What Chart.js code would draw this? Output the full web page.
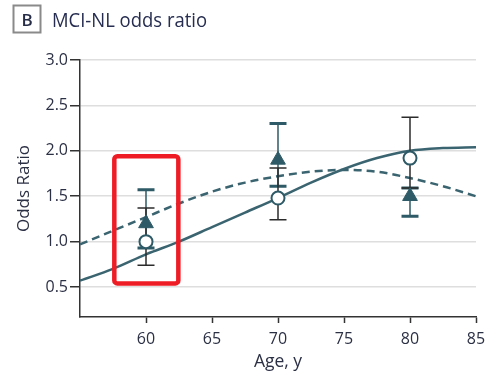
<!DOCTYPE html>
<html>
<head>
<meta charset="utf-8">
<title>MCI-NL odds ratio</title>
<script src="https://cdn.jsdelivr.net/npm/chart.js@4/dist/chart.umd.min.js"></script>
<style>
  html, body { margin: 0; padding: 0; background: #ffffff; }
  canvas { display: block; }
</style>
</head>
<body>
<canvas id="chart" width="487" height="384"></canvas>
<script>
// Fitted model curves, evaluated on an age grid (years)
const ageGrid     = [55, 57.5, 60, 62.5, 65, 67.5, 70, 72.5, 75, 77.5, 80, 82.5, 85];
const curveSolid  = [0.57, 0.70, 0.86, 1.00, 1.16, 1.32, 1.48, 1.65, 1.80, 1.92, 2.00, 2.03, 2.04];
const curveDashed = [0.97, 1.12, 1.27, 1.42, 1.55, 1.65, 1.72, 1.77, 1.79, 1.77, 1.70, 1.61, 1.50];

// Age-group estimates with 95% confidence intervals
const pointAges   = [60, 70, 80];
const orCircle    = [1.00, 1.48, 1.92];
const circleLow   = [0.74, 1.24, 1.59];
const circleHigh  = [1.37, 1.81, 2.37];
const orTriangle  = [1.20, 1.90, 1.50];
const triangleLow = [0.93, 1.61, 1.28];
const triangleHigh= [1.57, 2.30, 1.59];

// Axis ticks
const ageTicks = [60, 65, 70, 75, 80, 85];
const orTicks  = [0.5, 1.0, 1.5, 2.0, 2.5, 3.0];

// Highlighted region (age range, odds-ratio range)
const highlightAge = [57.6, 62.45];
const highlightOR  = [0.54, 1.94];

const TEAL = '#2d5a66';
const LINE = '#3a6470';
const INK  = '#2c3045';
const FONT = '"Open Sans", "DejaVu Sans", sans-serif';

const errorBars = {
  id: 'errorBars',
  beforeDatasetDraw(chart, args) {
    if (args.index !== 1) return;
    const {ctx, scales: {x, y}} = chart;
    const draw = (lo, hi, color, capWidth, stemWidth) => {
      pointAges.forEach((age, i) => {
        const px = x.getPixelForValue(age);
        const yl = y.getPixelForValue(lo[i]);
        const yh = y.getPixelForValue(hi[i]);
        ctx.save();
        ctx.strokeStyle = color;
        ctx.lineWidth = stemWidth;
        ctx.beginPath();
        ctx.moveTo(px, yl);
        ctx.lineTo(px, yh);
        ctx.stroke();
        ctx.lineWidth = capWidth;
        ctx.beginPath();
        ctx.moveTo(px - 8.5, yl); ctx.lineTo(px + 8.5, yl);
        ctx.moveTo(px - 8.5, yh); ctx.lineTo(px + 8.5, yh);
        ctx.stroke();
        ctx.restore();
      });
    };
    draw(triangleLow, triangleHigh, TEAL, 3, 1.5);
    draw(circleLow, circleHigh, '#2b2b2b', 1.5, 1.5);
  }
};

const highlightBox = {
  id: 'highlightBox',
  afterDatasetsDraw(chart) {
    const {ctx, scales: {x, y}} = chart;
    const x0 = x.getPixelForValue(highlightAge[0]);
    const x1 = x.getPixelForValue(highlightAge[1]);
    const y0 = y.getPixelForValue(highlightOR[1]);
    const y1 = y.getPixelForValue(highlightOR[0]);
    ctx.save();
    ctx.strokeStyle = '#ee1c25';
    ctx.lineWidth = 4.5;
    ctx.beginPath();
    ctx.roundRect(x0, y0, x1 - x0, y1 - y0, 3);
    ctx.stroke();
    ctx.restore();
  }
};

const panelTitle = {
  id: 'panelTitle',
  afterDraw(chart) {
    const ctx = chart.ctx;
    ctx.save();
    ctx.strokeStyle = '#8a8a8a';
    ctx.lineWidth = 2;
    ctx.strokeRect(13.5, 5.5, 27, 27);
    ctx.fillStyle = '#262c45';
    ctx.font = '600 17px ' + FONT;
    ctx.textAlign = 'center';
    ctx.textBaseline = 'alphabetic';
    ctx.fillText('B', 27, 25.5);
    const text = 'MCI-NL odds ratio';
    ctx.font = '20px ' + FONT;
    ctx.textAlign = 'left';
    const w = ctx.measureText(text).width;
    ctx.translate(52, 27);
    ctx.scale(155 / w, 1);
    ctx.fillStyle = '#262d50';
    ctx.fillText(text, 0, 0);
    ctx.restore();
  }
};

const toPoints = (xs, ys) => xs.map((v, i) => ({x: v, y: ys[i]}));

new Chart(document.getElementById('chart'), {
  type: 'scatter',
  data: {
    datasets: [
      {
        label: 'Age group estimate',
        data: toPoints(pointAges, orCircle),
        pointStyle: 'circle',
        pointRadius: 6.5,
        pointHoverRadius: 6.5,
        pointBackgroundColor: '#ffffff',
        pointBorderColor: TEAL,
        pointBorderWidth: 2,
        showLine: false,
        order: 0
      },
      {
        label: 'Age group estimate (alt.)',
        data: toPoints(pointAges, orTriangle),
        pointStyle: 'triangle',
        pointRadius: 8.5,
        pointHoverRadius: 8.5,
        pointBackgroundColor: TEAL,
        pointBorderColor: TEAL,
        pointBorderWidth: 1,
        showLine: false,
        order: 1
      },
      {
        label: 'Model',
        data: toPoints(ageGrid, curveSolid),
        showLine: true,
        borderColor: LINE,
        borderWidth: 2.5,
        pointRadius: 0,
        cubicInterpolationMode: 'monotone',
        order: 2
      },
      {
        label: 'Model (alt.)',
        data: toPoints(ageGrid, curveDashed),
        showLine: true,
        borderColor: LINE,
        borderWidth: 2.5,
        borderDash: [8, 5],
        pointRadius: 0,
        cubicInterpolationMode: 'monotone',
        order: 3
      }
    ]
  },
  options: {
    responsive: false,
    animation: false,
    devicePixelRatio: 1,
    layout: { padding: { top: 60, right: 11, left: 0, bottom: 0 } },
    plugins: {
      legend: { display: false },
      tooltip: { enabled: false },
      title: { display: false }
    },
    scales: {
      x: {
        type: 'linear',
        position: 'bottom',
        min: 55,
        max: 85,
        afterBuildTicks: s => { s.ticks = ageTicks.map(v => ({value: v})); },
        afterFit: s => { s.height = 67; s.paddingLeft = 0; s.paddingRight = 0; },
        grid: {
          drawOnChartArea: false,
          tickLength: 6,
          tickColor: '#333333',
          tickWidth: 1.5
        },
        border: { color: '#333333', width: 1.5 },
        ticks: {
          color: INK,
          font: { family: FONT, size: 16 },
          padding: 7,
          maxRotation: 0,
          callback: v => String(v)
        },
        title: {
          display: true,
          text: 'Age, y',
          color: INK,
          font: { family: FONT, size: 17.5 },
          padding: { top: 0, bottom: 11 }
        }
      },
      y: {
        type: 'linear',
        min: 0.17,
        max: 3.0,
        afterBuildTicks: s => { s.ticks = orTicks.map(v => ({value: v})); },
        afterFit: s => { s.width = 80; s.paddingTop = 0; s.paddingBottom = 0; },
        grid: {
          color: '#dedede',
          lineWidth: 1.5,
          tickLength: 10,
          tickColor: '#333333',
          tickWidth: 1.5
        },
        border: { color: '#333333', width: 1.5 },
        ticks: {
          color: INK,
          font: { family: FONT, size: 16 },
          padding: 2,
          callback: v => v.toFixed(1)
        },
        title: {
          display: true,
          text: 'Odds Ratio',
          color: INK,
          font: { family: FONT, size: 17 },
          padding: { top: 14, bottom: 0 }
        }
      }
    }
  },
  plugins: [errorBars, highlightBox, panelTitle]
});
</script>
</body>
</html>
